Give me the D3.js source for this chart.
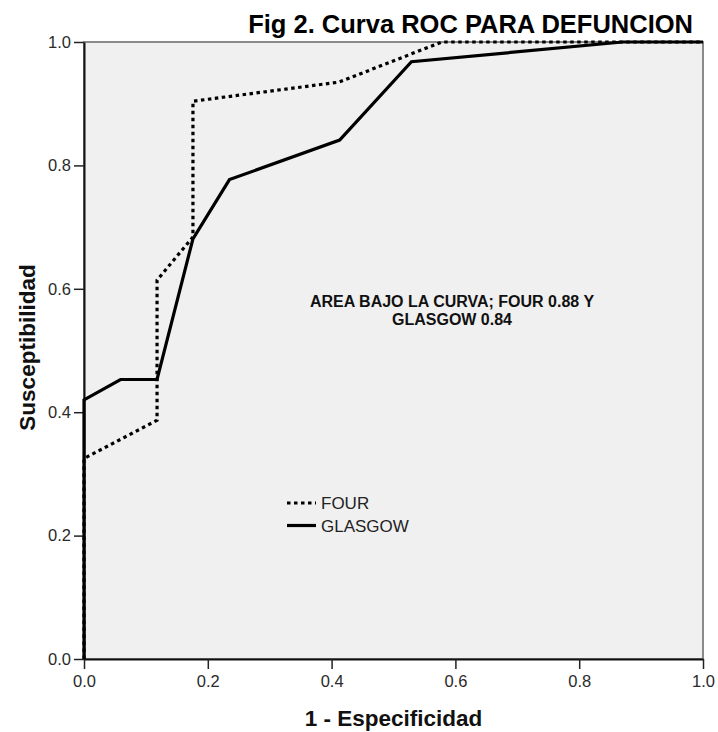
<!DOCTYPE html>
<html>
<head>
<meta charset="utf-8">
<script src="https://cdn.jsdelivr.net/npm/d3@7"></script>
<style>
  body { margin: 0; background: white; }
  text { font-family: "Liberation Sans", Arial, sans-serif; }
</style>
</head>
<body>
<script>
// ROC points (1 - especificidad, susceptibilidad)
const fourX = [0, 0, 0.118, 0.118, 0.176, 0.176, 0.412, 0.578, 1.0]
const fourY = [0, 0.325, 0.387, 0.614, 0.684, 0.904, 0.935, 1.0, 1.0]
const glasgowX = [0, 0, 0.059, 0.118, 0.176, 0.235, 0.413, 0.529, 0.87, 1.0]
const glasgowY = [0, 0.42, 0.453, 0.453, 0.681, 0.777, 0.841, 0.968, 1.0, 1.0]
const tickValues = [0, 0.2, 0.4, 0.6, 0.8, 1.0]
const seriesNames = ["FOUR", "GLASGOW"]
const titleText = "Fig 2. Curva ROC PARA DEFUNCION"
const noteLines = ["AREA BAJO LA CURVA; FOUR 0.88 Y", "GLASGOW 0.84"]

var margin = {top: 42, right: 15, bottom: 73, left: 84};
var width = 718 - margin.left - margin.right,
    height = 732 - margin.top - margin.bottom;

var svg = d3.select("body")
    .append("svg")
    .attr("width", 718)
    .attr("height", 732)

var g = svg.append("g")
    .attr("transform", "translate(" + margin.left + "," + margin.top + ")")

let xScale = d3.scaleLinear().domain([0, 1]).range([0, width])
let yScale = d3.scaleLinear().domain([0, 1]).range([height, 0])

g.append("rect")
    .attr("x", 0)
    .attr("y", 0)
    .attr("width", width)
    .attr("height", height)
    .attr("fill", "#f0f0f0")
    .attr("stroke", "#8a8a8a")
    .attr("stroke-width", 2)

let xAxis = d3.axisBottom(xScale).tickValues(tickValues).tickFormat(d3.format(".1f"))
    .tickSize(10).tickSizeOuter(0).tickPadding(6)
let yAxis = d3.axisLeft(yScale).tickValues(tickValues).tickFormat(d3.format(".1f"))
    .tickSize(10).tickSizeOuter(0).tickPadding(3)

g.append("g")
    .attr("class", "x-axis")
    .attr("transform", "translate(0," + height + ")")
    .call(xAxis)

g.append("g")
    .attr("class", "y-axis")
    .call(yAxis)

g.selectAll(".x-axis path, .y-axis path")
    .attr("stroke", "#111")
    .attr("stroke-width", 2)
g.selectAll(".x-axis line, .y-axis line")
    .attr("stroke", "#222")
    .attr("stroke-width", 1.5)
g.selectAll(".x-axis text, .y-axis text")
    .attr("font-size", 16.5)
    .attr("fill", "#2a2a2a")
    .style("font-family", "'Liberation Sans', Arial, sans-serif")

let line = d3.line()
    .x(d => xScale(d[0]))
    .y(d => yScale(d[1]))

let fourPts = fourX.map((x, i) => [x, fourY[i]])
let glasgowPts = glasgowX.map((x, i) => [x, glasgowY[i]])

g.append("path")
    .datum(fourPts)
    .attr("d", line)
    .attr("fill", "none")
    .attr("stroke", "#000")
    .attr("stroke-width", 3.2)
    .attr("stroke-dasharray", "3.5,3.5")

g.append("path")
    .datum(glasgowPts)
    .attr("d", line)
    .attr("fill", "none")
    .attr("stroke", "#000")
    .attr("stroke-width", 3.2)
    .attr("stroke-linejoin", "miter")

// legend
let legend = g.append("g").attr("transform", "translate(203,461)")
legend.selectAll("line")
    .data(seriesNames)
    .enter()
    .append("line")
    .attr("x1", 0)
    .attr("x2", 29)
    .attr("y1", (d, i) => i * 22.5)
    .attr("y2", (d, i) => i * 22.5)
    .attr("stroke", "#000")
    .attr("stroke-width", 3.2)
    .attr("stroke-dasharray", (d, i) => i == 0 ? "3.5,3.5" : null)
legend.selectAll("text")
    .data(seriesNames)
    .enter()
    .append("text")
    .attr("x", 34)
    .attr("y", (d, i) => i * 22.5 + 6)
    .attr("font-size", 17)
    .attr("fill", "#222")
    .text(d => d)

// note inside the plot
g.append("text")
    .attr("x", 452 - margin.left)
    .attr("font-size", 16)
    .attr("font-weight", "bold")
    .attr("fill", "#111")
    .attr("text-anchor", "middle")
    .selectAll("tspan")
    .data(noteLines)
    .enter()
    .append("tspan")
    .attr("x", 452 - margin.left)
    .attr("y", (d, i) => 307 - margin.top + i * 17.5)
    .text(d => d)

// titles
svg.append("text")
    .attr("x", 693)
    .attr("y", 33)
    .attr("text-anchor", "end")
    .attr("font-size", 25.5)
    .attr("font-weight", "bold")
    .attr("fill", "#000")
    .text(titleText)

svg.append("text")
    .attr("x", margin.left + width / 2)
    .attr("y", 726)
    .attr("text-anchor", "middle")
    .attr("font-size", 22.5)
    .attr("font-weight", "bold")
    .attr("fill", "#111")
    .text("1 - Especificidad")

svg.append("text")
    .attr("transform", "translate(35," + (margin.top + height / 2 - 3) + ") rotate(-90)")
    .attr("text-anchor", "middle")
    .attr("font-size", 22.5)
    .attr("font-weight", "bold")
    .attr("fill", "#111")
    .text("Susceptibilidad")
</script>
</body>
</html>
